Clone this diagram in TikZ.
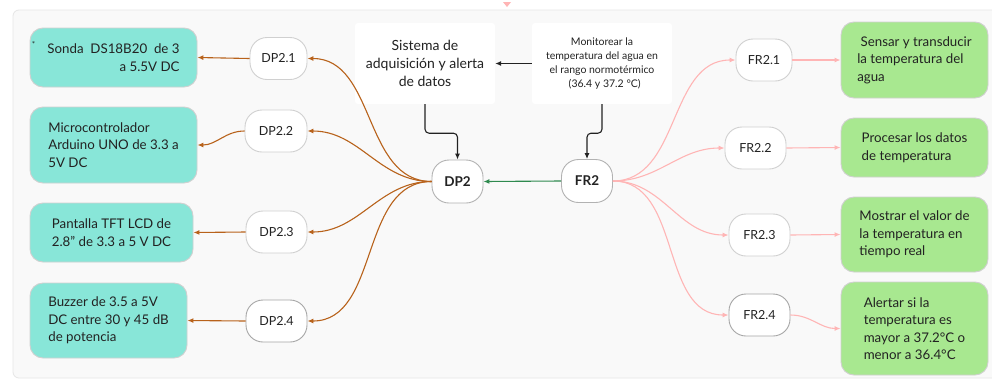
\documentclass[tikz,border=0pt]{standalone}
\usepackage{fontspec}
\setmainfont{Lato}
\usetikzlibrary{arrows.meta}
\definecolor{tealbox}{HTML}{88E6D8}
\definecolor{greenbox}{HTML}{A8E890}
\definecolor{brownln}{HTML}{B8621B}
\definecolor{pinkln}{HTML}{FFB5B5}
\definecolor{greenln}{HTML}{2F8A4F}
\definecolor{panel}{HTML}{F9F9F9}
\definecolor{panelborder}{HTML}{E6E6E6}
\definecolor{nodeborder}{HTML}{D0D0D0}
\definecolor{txt}{HTML}{222222}
\tikzset{
  box/.style={rectangle, rounded corners=13pt, draw=nodeborder, line width=0.9pt,
    inner sep=0pt, text=txt, font=\fontsize{13.3}{17.5}\selectfont, align=left},
  leftbox/.style={box, fill=tealbox},
  rightbox/.style={box, fill=greenbox},
  pill/.style={rectangle, rounded corners=17pt, draw=nodeborder, line width=0.9pt, fill=white,
    minimum height=42pt, inner sep=0pt, text=txt, font=\fontsize{12.5}{15}\selectfont},
  bigpill/.style={pill, draw=black!30, minimum width=51pt, minimum height=43pt,
    font=\bfseries\fontsize{13.5}{15}\selectfont},
  whitebox/.style={rectangle, rounded corners=3pt, fill=white, inner sep=0pt,
    minimum width=140pt, minimum height=81pt, text=txt, align=center},
  tip/.style={-{Latex[length=6pt,width=5pt]}},
  brownarr/.style={tip, draw=brownln, line width=1.1pt},
  pinkarr/.style={tip, draw=pinkln, line width=1.1pt},
  blackarr/.style={tip, draw=txt, line width=1.1pt, rounded corners=4pt},
}
\begin{document}
\begin{tikzpicture}[x=1pt,y=-1pt]
\useasboundingbox (0,0) rectangle (992,381);
\fill[white] (0,0) rectangle (992,381);
\draw[fill=panel, draw=panelborder, line width=0.8pt, rounded corners=6pt]
  (13,378) -- (13,10) -- (1000,10) -- (1000,378) -- cycle;
\fill[pinkln] (503,2) -- (511,2) -- (507,7) -- cycle;

% left boxes
\node[leftbox, minimum width=167pt, minimum height=59pt, align=right] (b1) at (113.5,57.5)
  {Sonda\ \ DS18B20\ \ de 3\\a 5.5V DC};
\node[text=txt, font=\fontsize{8}{8}\selectfont, inner sep=0pt] (ast) at (33.5,44) {*};
\node[leftbox, minimum width=167pt, minimum height=76pt] (b2) at (113.5,145)
  {Microcontrolador\\Arduino UNO de 3.3 a\\5V DC};
\node[leftbox, minimum width=163pt, minimum height=59pt] (b3) at (111.5,232.5)
  {Pantalla TFT LCD de\\2.8'' de 3.3 a 5 V DC};
\node[leftbox, minimum width=157pt, minimum height=75pt] (b4) at (108.5,320.5)
  {Buzzer de 3.5 a 5V\\DC entre 30 y 45 dB\\de potencia};

% DP nodes
\node[pill, minimum width=57pt] (dp21) at (278.5,58.5) {DP2.1};
\node[pill, minimum width=62pt] (dp22) at (276,131) {DP2.2};
\node[pill, minimum width=61pt] (dp23) at (276.5,232) {DP2.3};
\node[pill, minimum width=61pt, draw=black!35] (dp24) at (276.5,321) {DP2.4};

% central
\node[bigpill] (dp2) at (457.5,181.5) {DP2};
\node[bigpill] (fr2) at (587,181) {FR2};
\node[whitebox, font=\fontsize{14}{18}\selectfont] (sis) at (425,63.5)
  {Sistema de\\adquisición y alerta\\de datos};
\node[whitebox, font=\fontsize{10.5}{14}\selectfont] (mon) at (602,63.5)
  {Monitorear la\\temperatura del agua en\\el rango normotérmico\\\ \ (36.4 y 37.2 °C)};

% FR nodes
\node[pill, minimum width=56pt] (fr21) at (764,60) {FR2.1};
\node[pill, minimum width=61pt] (fr22) at (755.5,148) {FR2.2};
\node[pill, minimum width=61pt] (fr23) at (759.5,235) {FR2.3};
\node[pill, minimum width=61pt, draw=black!35] (fr24) at (759.5,315) {FR2.4};

% right boxes
\node[rightbox, minimum width=147pt, minimum height=76pt] (g1) at (914.5,60)
  {\ Sensar y transducir\\la temperatura del\\agua};
\node[rightbox, minimum width=147pt, minimum height=59pt] (g2) at (914.5,147.5)
  {Procesar los datos\\de temperatura};
\node[rightbox, minimum width=147pt, minimum height=75pt] (g3) at (914.5,234.5)
  {Mostrar el valor de\\la temperatura en\\tiempo real};
\node[rightbox, minimum width=147pt, minimum height=93pt] (g4) at (914.5,328.5)
  {Alertar si la\\temperatura es\\mayor a 37.2°C o\\menor a 36.4°C};

% black connectors
\draw[blackarr] (mon.west) -- (sis.east);
\draw[blackarr] (sis.south) -- ++(0,29) -| (dp2.north);
\draw[blackarr] (mon.south) -- ++(0,29) -| (fr2.north);

% green
\draw[tip, draw=greenln, line width=1.1pt] (fr2.west) -- (dp2.east);

% brown
\foreach \n in {dp21,dp22,dp23,dp24}
  \draw[brownarr] (dp2.west) to[out=180,in=0] (\n.east);
\draw[brownarr] (dp21.west) -- (b1.east);
\draw[brownarr] (dp22.west) to[out=180,in=0] (b2.east);
\draw[brownarr] (dp23.west) -- (b3.east);
\draw[brownarr] (dp24.west) -- (b4.east);

% pink
\foreach \n in {fr21,fr22,fr23,fr24}
  \draw[pinkarr] (fr2.east) to[out=0,in=180] (\n.west);
\draw[pinkarr] (fr21.east) -- (g1.west);
\draw[pinkarr] (fr22.east) -- (g2.west);
\draw[pinkarr] (fr23.east) -- (g3.west);
\draw[pinkarr] (fr24.east) to[out=0,in=180] (g4.west);
\end{tikzpicture}
\end{document}
